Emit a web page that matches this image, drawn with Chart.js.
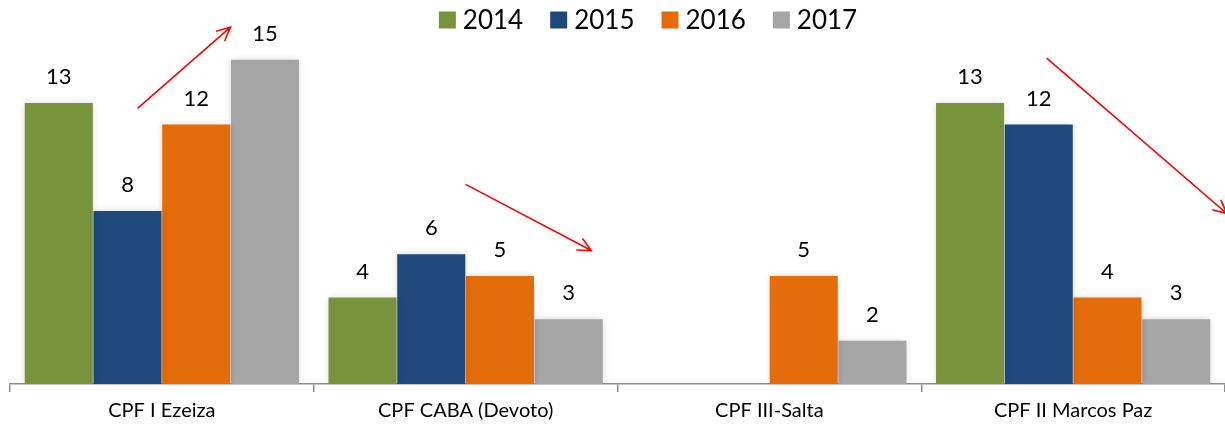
<!DOCTYPE html>
<html>
<head>
<meta charset="utf-8">
<script src="https://cdn.jsdelivr.net/npm/chart.js@4/dist/chart.umd.min.js"></script>
<style>
html,body{margin:0;padding:0;background:#fff;}
#wrap{width:1225px;height:430px;position:relative;}
</style>
</head>
<body>
<div id="wrap"><canvas id="c" width="1225" height="430"></canvas></div>
<script>
const categories = ["CPF I Ezeiza", "CPF CABA (Devoto)", "CPF III-Salta", "CPF II Marcos Paz"];
const seriesNames = ["2014", "2015", "2016", "2017"];
const values2014 = [13, 4, null, 13];
const values2015 = [8, 6, null, 12];
const values2016 = [12, 5, 5, 4];
const values2017 = [15, 3, 2, 3];
const seriesColors = ["#77933C", "#1F497D", "#E46C0A", "#A5A5A5"];
// trend arrows: [category index, category offset, value] start -> end
const arrowStarts = [[0, -0.08, 12.75], [1, 0.0, 9.23], [3, -0.087, 15.07]];
const arrowEnds = [[0, 0.226, 16.5], [1, 0.414, 6.17], [3, 0.506, 7.88]];

const FONT = "Lato, 'Open Sans', sans-serif";

const datasets = [values2014, values2015, values2016, values2017].map((v, i) => ({
  label: seriesNames[i],
  data: v,
  backgroundColor: seriesColors[i],
  borderWidth: 0,
  barPercentage: 0.99,
  categoryPercentage: 0.905
}));

const shadowPlugin = {
  id: 'shadow',
  beforeDatasetsDraw(chart) {
    const ctx = chart.ctx;
    ctx.save();
    ctx.shadowColor = 'rgba(0,0,0,0.18)';
    ctx.shadowBlur = 7;
    ctx.shadowOffsetX = 0;
    ctx.shadowOffsetY = 0;
  },
  afterDatasetsDraw(chart) {
    chart.ctx.restore();
  }
};

const labelsPlugin = {
  id: 'valueLabels',
  afterDatasetsDraw(chart) {
    const ctx = chart.ctx;
    ctx.save();
    ctx.font = "22px " + FONT;
    ctx.fillStyle = '#000';
    ctx.textAlign = 'center';
    ctx.textBaseline = 'middle';
    chart.data.datasets.forEach((ds, di) => {
      const meta = chart.getDatasetMeta(di);
      meta.data.forEach((bar, i) => {
        const v = ds.data[i];
        if (v === null || v === undefined) return;
        ctx.fillText(String(v), bar.x, bar.y - 26);
      });
    });
    ctx.restore();
  }
};

const legendPlugin = {
  id: 'customLegend',
  afterDraw(chart) {
    const ctx = chart.ctx;
    ctx.save();
    ctx.font = "26px " + FONT;
    ctx.textBaseline = 'middle';
    const box = 17, gapBoxText = 7, gapItems = 27;
    let widths = chart.data.datasets.map(d => box + gapBoxText + ctx.measureText(d.label).width);
    let total = widths.reduce((a, b) => a + b, 0) + gapItems * (widths.length - 1);
    let x = 648 - total / 2;
    const y = 20;
    chart.data.datasets.forEach((d, i) => {
      ctx.fillStyle = d.backgroundColor;
      ctx.fillRect(x, y - box / 2, box, box);
      ctx.fillStyle = '#000';
      ctx.fillText(d.label, x + box + gapBoxText, y + 1);
      x += widths[i] + gapItems;
    });
    ctx.restore();
  }
};

const arrowPlugin = {
  id: 'arrows',
  afterDraw(chart) {
    const xs = chart.scales.x, ys = chart.scales.y;
    const ctx = chart.ctx;
    const catW = (xs.getPixelForValue(1) - xs.getPixelForValue(0));
    const pt = p => [xs.getPixelForValue(p[0]) + p[1] * catW, ys.getPixelForValue(p[2])];
    ctx.save();
    ctx.strokeStyle = '#FF0000';
    ctx.lineWidth = 1.6;
    arrowStarts.forEach((s, i) => {
      const [x1, y1] = pt(s);
      const [x2, y2] = pt(arrowEnds[i]);
      ctx.beginPath();
      ctx.moveTo(x1, y1);
      ctx.lineTo(x2, y2);
      const ang = Math.atan2(y2 - y1, x2 - x1);
      const L = 15, a = 0.45;
      ctx.moveTo(x2 - L * Math.cos(ang - a), y2 - L * Math.sin(ang - a));
      ctx.lineTo(x2, y2);
      ctx.lineTo(x2 - L * Math.cos(ang + a), y2 - L * Math.sin(ang + a));
      ctx.stroke();
    });
    ctx.restore();
  }
};

new Chart(document.getElementById('c'), {
  type: 'bar',
  data: { labels: categories, datasets },
  options: {
    responsive: false,
    animation: false,
    layout: { padding: { left: 10, right: 0, top: 38, bottom: 0 } },
    plugins: { legend: { display: false }, tooltip: { enabled: false } },
    scales: {
      x: {
        offset: true,
        grid: { offset: true, drawOnChartArea: false, drawTicks: true, tickLength: 8, color: '#8c8c8c', lineWidth: 1.5 },
        border: { display: true, color: '#8c8c8c', width: 1.5 },
        ticks: { color: '#000', font: { family: FONT, size: 20 }, padding: 7 }
      },
      y: {
        display: false,
        min: 0,
        max: 16
      }
    }
  },
  plugins: [shadowPlugin, labelsPlugin, legendPlugin, arrowPlugin]
});
</script>
</body>
</html>
